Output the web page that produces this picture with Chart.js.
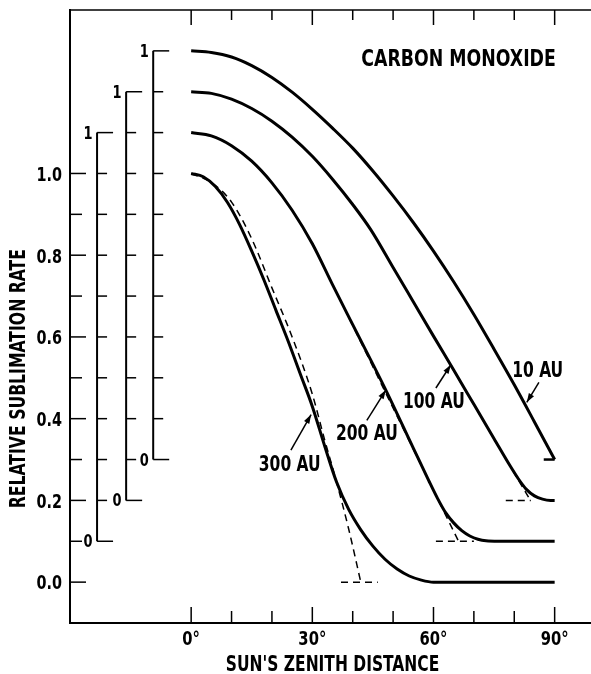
<!DOCTYPE html>
<html>
<head>
<meta charset="utf-8">
<script src="https://cdn.jsdelivr.net/npm/chart.js@4.4.1/dist/chart.umd.min.js"></script>
<style>
  html, body { margin: 0; padding: 0; background: #fff; }
</style>
</head>
<body>
<canvas id="chart" width="591" height="674"></canvas>
<script>
// Relative sublimation rate of CO vs sun's zenith distance.
// Each curve is drawn shifted up by its offset (its own little 0..1 scale on the left).

const xTicks = [0, 10, 20, 30, 40, 50, 60, 70, 80, 90];
const yTicks = [0, 0.1, 0.2, 0.3, 0.4, 0.5, 0.6, 0.7, 0.8, 0.9, 1.0];

const distances = ['300 AU', '200 AU', '100 AU', '10 AU'];
const offsets   = [0, 0.1, 0.2, 0.3];

const zen300  = [0, 3, 6, 9, 12, 15, 18, 21, 24, 27, 30, 33, 36, 39, 42, 45, 48, 51, 54, 57, 60, 90];
const rate300 = [1.0, 0.992, 0.968, 0.929, 0.875, 0.81, 0.74, 0.665, 0.59, 0.51, 0.43, 0.335, 0.245, 0.178, 0.128, 0.088, 0.056, 0.032, 0.015, 0.005, 0, 0];

const zen200  = [0, 5, 10, 15, 20, 25, 30, 35, 40, 48.2, 55, 58.8, 61, 63, 65, 67, 69, 71, 73, 76, 90];
const rate200 = [1.0, 0.992, 0.968, 0.93, 0.877, 0.81, 0.728, 0.628, 0.53, 0.37, 0.228, 0.149, 0.105, 0.07, 0.045, 0.026, 0.013, 0.005, 0.001, 0, 0];

const zen100  = [0, 5, 10, 15, 20, 25, 30, 35, 40, 44.5, 50, 55, 60, 65, 70, 75, 79, 81, 83, 85, 87, 89, 90];
const rate100 = [1.0, 0.996, 0.982, 0.959, 0.928, 0.889, 0.842, 0.786, 0.724, 0.662, 0.57, 0.486, 0.402, 0.319, 0.235, 0.151, 0.084, 0.053, 0.027, 0.011, 0.003, 0, 0];

const zen10   = [0, 5, 10, 15, 20, 25, 30, 35, 40, 45, 50, 55, 60, 65, 70, 75, 80, 85, 90];
const rate10  = [1.0, 0.996, 0.985, 0.964, 0.935, 0.899, 0.857, 0.811, 0.762, 0.706, 0.645, 0.58, 0.51, 0.435, 0.355, 0.27, 0.183, 0.092, 0.0];

// dashed approximations
const dashZen300  = [0, 5, 10, 15, 20, 25, 30, 33, 36, 39, 42];
const dashRate300 = [1.0, 0.978, 0.93, 0.84, 0.72, 0.6, 0.46, 0.35, 0.245, 0.13, 0.0];
const dashZen200  = [30, 45, 60, 66.2];
const dashRate200 = [0.73, 0.427, 0.125, 0.0];
const dashZen100  = [60, 72, 84];
const dashRate100 = [0.402, 0.201, 0.0];

// short dashed zero-level marks at the foot of each dashed line
const footZen = [[37.1, 46.2], [60.6, 70], [77.9, 84.1]];
// short solid zero-level mark at the end of the 10 AU curve
const hookZen = [87.3, 90];

const FONT = "'DejaVu Sans Condensed', 'Liberation Sans Narrow', sans-serif";
const SQUEEZE = 0.82;   // the original lettering is narrower than any installed face

const pts = (zs, rs, off) => zs.map((z, i) => ({ x: z, y: rs[i] + off }));

const solid = (data) => ({
  data, borderColor: '#000', borderWidth: 3, pointRadius: 0,
  cubicInterpolationMode: 'monotone', fill: false,
});
const dashed = (data) => ({
  data, borderColor: '#000', borderWidth: 1.5, borderDash: [7, 5], pointRadius: 0,
  cubicInterpolationMode: 'monotone', fill: false,
});

const datasets = [
  dashed(pts(dashZen300, dashRate300, offsets[0])),
  dashed(pts(dashZen200, dashRate200, offsets[1])),
  dashed(pts(dashZen100, dashRate100, offsets[2])),
  ...footZen.map((seg, i) => dashed(seg.map(z => ({ x: z, y: offsets[i] })))),
  solid(pts(zen300, rate300, offsets[0])),
  solid(pts(zen200, rate200, offsets[1])),
  solid(pts(zen100, rate100, offsets[2])),
  solid(pts(zen10,  rate10,  offsets[3])),
  { ...solid(hookZen.map(z => ({ x: z, y: offsets[3] }))), borderWidth: 2.5 },
];

// shifted 0..1 scales on the left, one for each offset curve
const shiftedAxes = [
  { at: -23.3, off: offsets[1] },
  { at: -16.1, off: offsets[2] },
  { at: -9.4,  off: offsets[3] },
];

// curve labels (text centre x, baseline y) with arrows, in data coordinates
const callouts = [
  { text: distances[3], at: [85.8, 0.502], from: [86.1, 0.489], to: [83.1, 0.440] },
  { text: distances[2], at: [60.1, 0.426], from: [60.6, 0.475], to: [64.3, 0.532] },
  { text: distances[1], at: [43.5, 0.347], from: [43.5, 0.396], to: [48.2, 0.470] },
  { text: distances[0], at: [24.4, 0.273], from: [24.7, 0.323], to: [29.7, 0.410] },
];

function seg(ctx, x1, y1, x2, y2) {
  ctx.beginPath(); ctx.moveTo(x1, y1); ctx.lineTo(x2, y2); ctx.stroke();
}

function label(ctx, text, x, y, size, align, squeeze = SQUEEZE) {
  ctx.save();
  ctx.translate(x, y);
  ctx.scale(squeeze, 1);
  ctx.font = `bold ${size}px ${FONT}`;
  ctx.textAlign = align;
  ctx.textBaseline = 'alphabetic';
  ctx.fillText(text, 0, 0);
  ctx.restore();
}

const decor = {
  id: 'decor',
  afterDraw(chart) {
    const { ctx, chartArea: a, scales: { x, y } } = chart;
    ctx.save();
    ctx.strokeStyle = '#000';
    ctx.fillStyle = '#000';

    // top frame
    ctx.lineWidth = 1.5;
    seg(ctx, a.left, a.top, a.right, a.top);

    // inward tick marks and tick labels
    x.ticks.forEach(t => {
      const px = x.getPixelForValue(t.value);
      const big = t.value % 30 === 0;
      seg(ctx, px, a.bottom, px, a.bottom - (big ? 16 : 12));
      seg(ctx, px, a.top, px, a.top + (big ? 15 : 10));
      if (big) label(ctx, t.value + '°', px, a.bottom + 22, 20, 'center');
    });
    y.ticks.forEach(t => {
      const py = y.getPixelForValue(t.value);
      const big = Math.round(t.value * 10) % 2 === 0;
      seg(ctx, a.left, py, a.left + (big ? 16 : 12), py);
      if (big) label(ctx, t.value.toFixed(1), a.left - 8, py + 7.3, 20, 'right', 0.8);
    });

    // shifted scales
    shiftedAxes.forEach(ax => {
      const px = x.getPixelForValue(ax.at);
      ctx.lineWidth = 2;
      seg(ctx, px, y.getPixelForValue(ax.off), px, y.getPixelForValue(ax.off + 1));
      ctx.lineWidth = 1.5;
      yTicks.forEach((v, k) => {
        const py = y.getPixelForValue(ax.off + v);
        const end = k === 0 || k === yTicks.length - 1;
        seg(ctx, px, py, px + (end ? 16 : 10), py);
      });
      label(ctx, '1', px - 4.5, y.getPixelForValue(ax.off + 1) + 6, 17, 'right', 0.85);
      label(ctx, '0', px - 4.5, y.getPixelForValue(ax.off) + 6, 17, 'right', 0.85);
    });

    // title inside the plot
    label(ctx, 'CARBON MONOXIDE', x.getPixelForValue(90.3), y.getPixelForValue(1.263), 23.5, 'right');

    // curve labels and arrows
    callouts.forEach(c => {
      label(ctx, c.text, x.getPixelForValue(c.at[0]), y.getPixelForValue(c.at[1]), 21, 'center');
      const x1 = x.getPixelForValue(c.from[0]), y1 = y.getPixelForValue(c.from[1]);
      const x2 = x.getPixelForValue(c.to[0]),   y2 = y.getPixelForValue(c.to[1]);
      ctx.lineWidth = 1.5;
      seg(ctx, x1, y1, x2, y2);
      const ang = Math.atan2(y2 - y1, x2 - x1);
      ctx.beginPath();
      ctx.moveTo(x2, y2);
      ctx.lineTo(x2 - 9 * Math.cos(ang) + 3 * Math.sin(ang), y2 - 9 * Math.sin(ang) - 3 * Math.cos(ang));
      ctx.lineTo(x2 - 9 * Math.cos(ang) - 3 * Math.sin(ang), y2 - 9 * Math.sin(ang) + 3 * Math.cos(ang));
      ctx.closePath();
      ctx.fill();
    });

    // axis titles (the y title sits lower than the plot centre in the original)
    label(ctx, "SUN'S ZENITH DISTANCE", x.getPixelForValue(35), a.bottom + 48, 21, 'center');
    ctx.save();
    ctx.translate(25, y.getPixelForValue(0.498));
    ctx.rotate(-Math.PI / 2);
    label(ctx, 'RELATIVE SUBLIMATION RATE', 0, 0, 20.5, 'center', 0.85);
    ctx.restore();

    ctx.restore();
  },
};

new Chart(document.getElementById('chart'), {
  type: 'line',
  data: { datasets },
  plugins: [decor],
  options: {
    responsive: false,
    animation: false,
    events: [],
    layout: { padding: { top: 10, right: 0, bottom: 0, left: 0 } },
    plugins: { legend: { display: false }, tooltip: { enabled: false } },
    scales: {
      x: {
        type: 'linear', min: -30, max: 99,
        afterBuildTicks: s => { s.ticks = xTicks.map(v => ({ value: v })); },
        afterFit: s => { s.height = 51; },
        grid: { drawOnChartArea: false, drawTicks: false },
        border: { color: '#000', width: 2 },
        ticks: { display: false },
      },
      y: {
        type: 'linear', min: -0.1, max: 1.4,
        afterBuildTicks: s => { s.ticks = yTicks.map(v => ({ value: v })); },
        afterFit: s => { s.width = 70; },
        grid: { drawOnChartArea: false, drawTicks: false },
        border: { color: '#000', width: 2 },
        ticks: { display: false },
      },
    },
  },
});
</script>
</body>
</html>
